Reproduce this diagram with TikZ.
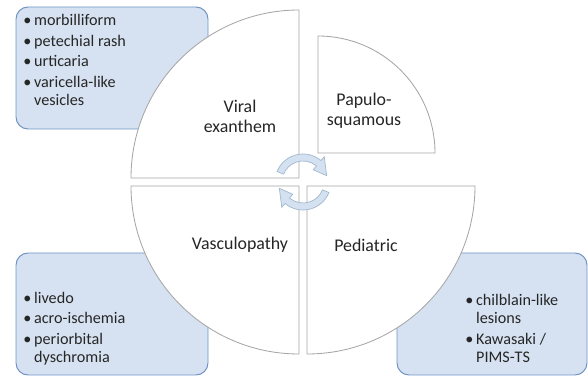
\documentclass[tikz,border=0pt]{standalone}
\usepackage{fontspec}
\setmainfont{Carlito}
\usepackage{xcolor}
\usetikzlibrary{positioning}

\definecolor{boxfill}{HTML}{D6E2F1}
\definecolor{boxline}{HTML}{6F93C4}
\definecolor{petalgray}{HTML}{A6A6A6}
\definecolor{arrowfill}{HTML}{D3E1F0}
\definecolor{arrowline}{HTML}{A3B8CF}
\definecolor{ink}{HTML}{262626}

\newcommand{\bulitem}{\textbullet\hspace{2pt}}
\newcommand{\bulcont}{\phantom{\textbullet\hspace{2pt}}}

\begin{document}
\begin{tikzpicture}[x=0.025cm, y=0.025cm,
  petal/.style={draw=petalgray, fill=white, line width=0.6pt},
  listbox/.style={draw=boxline, fill=boxfill, line width=0.7pt, rounded corners=0.3cm},
  cyc/.style={draw=arrowline, fill=arrowfill, line width=0.5pt},
  head/.style={font=\fontsize{12.7}{14.2}\selectfont, text=ink, align=center},
  items/.style={font=\fontsize{11.5}{13.2}\selectfont, text=ink, align=left,
    inner sep=0pt, anchor=base west}]
\useasboundingbox (0,0) rectangle (588,376);

% ---- bullet boxes, behind the circle ----
\draw[listbox] (16,247) rectangle (208,369);
\draw[listbox] (16,1) rectangle (208,123);
\draw[listbox] (397,1) rectangle (587,123);

% ---- four quarters ----
\draw[petal] (299,198) -- (131,198) arc[start angle=180, end angle=90, radius=168] -- cycle;
\draw[petal] (318,223) -- (318,340) arc[start angle=90, end angle=0, radius=117] -- cycle;
\draw[petal] (299,190) -- (131,190) arc[start angle=180, end angle=270, radius=168] -- cycle;
\draw[petal] (307,190) -- (475,190) arc[start angle=0, end angle=-90, radius=168] -- cycle;

% ---- cycle arrows in the middle ----
\begin{scope}[shift={(303,194)}]
  \draw[cyc] (158:28) arc[start angle=158, end angle=50, radius=28]
    -- (50:33) -- (15:24.5) -- (50:16) -- (50:21)
    arc[start angle=50, end angle=158, radius=21] -- cycle;
  \draw[cyc] (-22:28) arc[start angle=-22, end angle=-130, radius=28]
    -- (-130:33) -- (-165:24.5) -- (-130:16) -- (-130:21)
    arc[start angle=-130, end angle=-22, radius=21] -- cycle;
\end{scope}

% ---- quarter labels ----
\node[head] (viral) at (240,260) {Viral\\exanthem};
\node[head] (papulo) at (364,265) {Papulo-\\squamous};
\node[head] (vasculo) at (240,131) {Vasculopathy};
\node[head] (pediatric) at (366,131) {Pediatric};

% ---- bullet lists (placed by their last baseline) ----
\node[items] (viralList) at (23,270) {\bulitem morbilliform\\[1.5pt]
  \bulitem petechial rash\\[1.5pt]
  \bulitem urticaria\\[1.5pt]
  \bulitem varicella-like\\
  \bulcont vesicles};
\node[items] (vasculoList) at (23,13) {\bulitem livedo\\[1.5pt]
  \bulitem acro-ischemia\\[1.5pt]
  \bulitem periorbital\\
  \bulcont dyschromia};
\node[items] (pediatricList) at (465,13) {\bulitem chilblain-like\\
  \bulcont lesions\\[1.5pt]
  \bulitem Kawasaki /\\
  \bulcont PIMS-TS};
\end{tikzpicture}
\end{document}
